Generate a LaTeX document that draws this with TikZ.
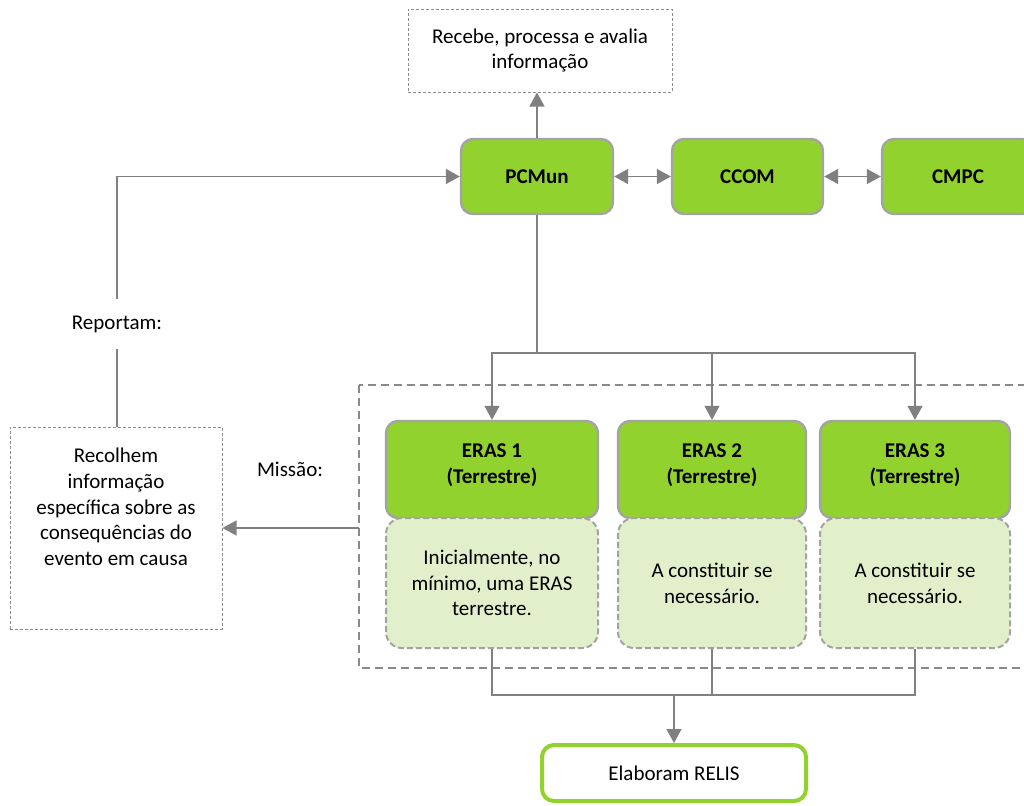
\documentclass[tikz,border=0pt]{standalone}
\usepackage{fontspec}
\setmainfont{Carlito}
\usetikzlibrary{arrows.meta}
\definecolor{gfill}{HTML}{92D22F}
\definecolor{lfill}{HTML}{E2EFCB}
\definecolor{gbord}{HTML}{A3A3A3}
\definecolor{lgray}{HTML}{808080}
\definecolor{dgray}{HTML}{8A8A8A}
\tikzset{
  every node/.style={font=\fontsize{10.5}{12.85}\selectfont, align=center, inner sep=0pt},
  gbox/.style={draw=gbord, line width=1.2pt, fill=gfill, rounded corners=6pt, font=\fontsize{10.5}{12.85}\selectfont\bfseries},
  lbox/.style={draw=gbord, line width=1pt, dash pattern=on 3pt off 1.5pt, fill=lfill, rounded corners=8pt},
  tbox/.style={draw=dgray, line width=0.5pt, dash pattern=on 1.5pt off 1pt},
  conn/.style={draw=lgray, line width=0.7pt},
  arr/.style={conn, -{Triangle[length=7pt,width=7.5pt]}},
  darr/.style={conn, {Triangle[length=7pt,width=7.5pt]}-{Triangle[length=7pt,width=7.5pt]}},
}
\begin{document}
\begin{tikzpicture}[x=0.5pt,y=-0.5pt]
\useasboundingbox (0,0) rectangle (1024,805);
% top box
\node[tbox, minimum width=132pt, minimum height=41.5pt] (top) at (540,50.5) {Recebe, processa e avalia\\informação};
% green row
\node[gbox, minimum width=76pt, minimum height=37.5pt] (p) at (537,176.5) {PCMun};
\node[gbox, minimum width=75.5pt, minimum height=37.5pt] (c) at (747.5,176.5) {CCOM};
\node[gbox, minimum width=76pt, minimum height=37.5pt] (m) at (958,176.5) {CMPC};
% container
\draw[draw=dgray, line width=1.2pt, dash pattern=on 4pt off 2.5pt] (359,385) rectangle (1040,668);
\coordinate (contw) at (359,526.5);
% ERAS
\node[gbox, minimum width=106pt, minimum height=48.5pt] (e1) at (492,469.5) {};
\node[gbox, minimum width=94pt, minimum height=48.5pt] (e2) at (712,469.5) {};
\node[gbox, minimum width=95pt, minimum height=48.5pt] (e3) at (915,469.5) {};
\node[font=\fontsize{10.5}{12.85}\selectfont\bfseries] (e1t) at (492,465) {ERAS 1\\(Terrestre)};
\node[font=\fontsize{10.5}{12.85}\selectfont\bfseries] (e2t) at (712,465) {ERAS 2\\(Terrestre)};
\node[font=\fontsize{10.5}{12.85}\selectfont\bfseries] (e3t) at (915,465) {ERAS 3\\(Terrestre)};
\node[lbox, minimum width=106pt, minimum height=65pt] (l1) at (492,583) {Inicialmente, no\\mínimo, uma ERAS\\terrestre.};
\node[lbox, minimum width=94pt, minimum height=65pt] (l2) at (712,583) {A constituir se\\necessário.};
\node[lbox, minimum width=95pt, minimum height=65pt] (l3) at (915,583) {A constituir se\\necessário.};
% left
\node[tbox, minimum width=106pt, minimum height=101pt] (r) at (116,528) {};
\node (rt) at (116,507) {Recolhem\\informação\\específica sobre as\\consequências do\\evento em causa};
\node[minimum height=25pt] (rep) at (117,324) {Reportam:};
\node (mis) at (290,469) {Missão:};
% RELIS
\node[draw=gfill, line width=2pt, fill=white, rounded corners=6pt, minimum width=132pt, minimum height=28pt] (rel) at (674,773) {Elaboram RELIS};
% connectors
\draw[arr] (p.north) -- (p.north |- top.south);
\draw[darr] (p.east) -- (c.west);
\draw[darr] (c.east) -- (m.west);
\draw[conn] (r.north -| rep.south) -- (rep.south);
\draw[arr] (rep.north) |- (p.west);
\draw[conn] (p.south) -- (537,353) coordinate (j);
\draw[arr] (j) -| (e1.north);
\draw[arr] (j) -| (e2.north);
\draw[arr] (j) -| (e3.north);
\draw[arr] (r.east -| contw) -- (r.east);
\coordinate (b) at (674,695);
\draw[conn] (l1.south) |- (b);
\draw[conn] (l2.south) |- (b);
\draw[conn] (l3.south) |- (b);
\draw[arr] (b) -- (rel.north);
\end{tikzpicture}
\end{document}
